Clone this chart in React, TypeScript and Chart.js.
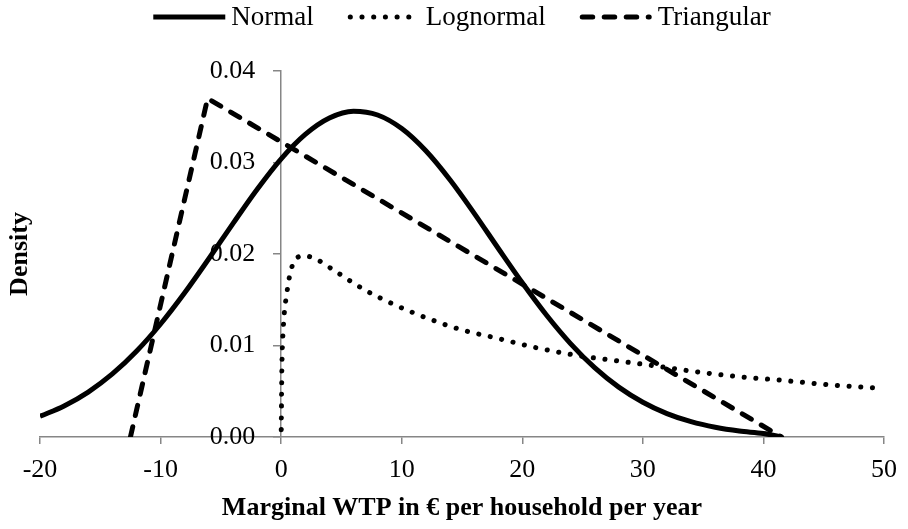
import React, { useEffect, useRef } from 'react';
import { Chart, registerables } from 'chart.js';

Chart.register(...registerables);

// ---- data ----
const seriesNames = ['Normal', 'Lognormal', 'Triangular'];

const normalX = [-20, -18, -16, -14, -12, -10, -8, -6, -4, -2, 0, 2, 4, 6, 8, 10, 12, 14, 16, 18, 20, 22, 24, 26, 28, 30, 32, 34, 36, 38, 40, 41.5];
const normalY = [0.00226, 0.00339, 0.00491, 0.00689, 0.00937, 0.01235, 0.01576, 0.01948, 0.02332, 0.02705, 0.0304, 0.03307, 0.03486, 0.0356, 0.03519, 0.03371, 0.03128, 0.02811, 0.02447, 0.02063, 0.01685, 0.01333, 0.01021, 0.00758, 0.00545, 0.0038, 0.00256, 0.00167, 0.00106, 0.00065, 0.00038, 0.0];

const lognormalX = [0.01, 0.03, 0.06, 0.1, 0.16, 0.22, 0.3, 0.44, 0.58, 0.77, 1.07, 1.45, 1.87, 2.8, 4.4, 6.9, 9.5, 12.3, 15, 17.9, 21, 24.6, 28, 31.4, 34.6, 37.9, 41.5, 45.5, 50];
const lognormalY = [0.0008, 0.004, 0.0075, 0.0098, 0.0115, 0.0128, 0.0141, 0.0154, 0.0167, 0.018, 0.0192, 0.0197, 0.0198, 0.0195, 0.0182, 0.0161, 0.0144, 0.0129, 0.0117, 0.0108, 0.0098, 0.0089, 0.0083, 0.0077, 0.0071, 0.0066, 0.0062, 0.0057, 0.0053];

const triangularX = [-12.5, -6.1, 41.5];
const triangularY = [0, 0.037, 0];

const xTicks = [-20, -10, 0, 10, 20, 30, 40, 50];
const yTicks = [0, 0.01, 0.02, 0.03, 0.04];
const xTitle = 'Marginal WTP in \u20ac per household per year';
const yTitle = 'Density';

const FONT = "'Times New Roman', 'Liberation Serif', serif";
const AXIS_COLOR = '#868686';

const toPoints = (xs: number[], ys: number[]) => xs.map((x, i) => ({ x, y: ys[i] }));

const customLegendAndTitle = {
  id: 'customLegendAndTitle',
  afterDraw(chart: any) {
    const ctx = chart.ctx as CanvasRenderingContext2D;
    ctx.save();
    // y-axis title
    ctx.font = `bold 26px ${FONT}`;
    ctx.fillStyle = '#000';
    ctx.textAlign = 'center';
    ctx.textBaseline = 'middle';
    ctx.translate(20, (chart.chartArea.top + chart.chartArea.bottom) / 2);
    ctx.rotate(-Math.PI / 2);
    ctx.fillText(yTitle, 0, 0);
    ctx.restore();

    // legend
    ctx.save();
    ctx.font = `27px ${FONT}`;
    const sample = 72;
    const gap = 6;
    const spacing = 34;
    const items = chart.data.datasets.map((ds: any) => ({ ds, w: ctx.measureText(ds.label).width }));
    const total = items.reduce((s: number, it: any) => s + sample + gap + it.w, 0) + spacing * (items.length - 1);
    let x = 462 - total / 2;
    const y = 17;
    items.forEach((it: any) => {
      const ds = it.ds;
      ctx.beginPath();
      ctx.setLineDash(ds.borderDash || []);
      ctx.lineCap = ds.borderCapStyle || 'butt';
      ctx.lineWidth = ds.borderWidth;
      ctx.strokeStyle = ds.borderColor;
      const inset = ds.borderCapStyle === 'round' ? ds.borderWidth / 2 : 0;
      ctx.moveTo(x + inset, y);
      ctx.lineTo(x + sample - inset, y);
      ctx.stroke();
      ctx.setLineDash([]);
      ctx.fillStyle = '#000';
      ctx.textAlign = 'left';
      ctx.textBaseline = 'middle';
      ctx.fillText(ds.label, x + sample + gap, y + 1);
      x += sample + gap + it.w + spacing;
    });
    ctx.restore();
  },
};

export default function App() {
  const canvasRef = useRef<HTMLCanvasElement | null>(null);

  useEffect(() => {
    if (!canvasRef.current) return;
    const chart = new Chart(canvasRef.current, {
      type: 'line',
      data: {
        datasets: [
          {
            label: seriesNames[0],
            data: toPoints(normalX, normalY),
            borderColor: '#000',
            borderWidth: 5,
            pointRadius: 0,
            cubicInterpolationMode: 'monotone',
            fill: false,
          },
          {
            label: seriesNames[1],
            data: toPoints(lognormalX, lognormalY),
            borderColor: '#000',
            borderWidth: 5,
            borderDash: [0.1, 11.6],
            borderCapStyle: 'round',
            pointRadius: 0,
            cubicInterpolationMode: 'monotone',
            fill: false,
          },
          {
            label: seriesNames[2],
            data: toPoints(triangularX, triangularY),
            borderColor: '#000',
            borderWidth: 5,
            borderDash: [10.5, 11.5],
            borderCapStyle: 'round',
            pointRadius: 0,
            tension: 0,
            fill: false,
          },
        ],
      } as any,
      options: {
        responsive: false,
        animation: false,
        events: [],
        layout: { padding: { top: 71, left: 40, right: 19, bottom: 0 } },
        plugins: {
          legend: { display: false },
          tooltip: { enabled: false },
        },
        scales: {
          x: {
            type: 'linear',
            position: 'bottom',
            min: -20,
            max: 50,
            afterBuildTicks: (s: any) => {
              s.ticks = xTicks.map((v) => ({ value: v }));
            },
            afterFit: (s: any) => {
              s.height = 92;
            },
            ticks: {
              font: { family: FONT, size: 26 },
              color: '#000',
              padding: 11,
              maxRotation: 0,
              autoSkip: false,
              callback: (v: any) => String(v),
            },
            grid: {
              drawOnChartArea: false,
              drawTicks: true,
              tickLength: 7,
              color: AXIS_COLOR,
              lineWidth: 1.5,
            },
            border: { color: AXIS_COLOR, width: 1.5 },
            title: {
              display: true,
              text: xTitle,
              font: { family: FONT, size: 26, weight: 'bold' },
              color: '#000',
              padding: { top: 6, bottom: 5 },
            },
          },
          y: {
            type: 'linear',
            position: { x: 0 } as any,
            min: 0,
            max: 0.04,
            afterBuildTicks: (s: any) => {
              s.ticks = yTicks.map((v) => ({ value: v }));
            },
            ticks: {
              font: { family: FONT, size: 26 },
              color: '#000',
              padding: 18,
              autoSkip: false,
              // em space keeps the label clear of the axis line (axis sits at x = 0)
              callback: (v: any) => Number(v).toFixed(2) + '\u2003',
            },
            grid: {
              drawOnChartArea: false,
              drawTicks: true,
              tickLength: 7,
              color: AXIS_COLOR,
              lineWidth: 1.5,
            },
            border: { color: AXIS_COLOR, width: 1.5 },
          },
        },
      } as any,
      plugins: [customLegendAndTitle],
    });
    return () => chart.destroy();
  }, []);

  return (
    <div style={{ position: 'absolute', left: 0, top: 0, width: 908, height: 529, background: '#fff' }}>
      <canvas ref={canvasRef} width={908} height={529} />
    </div>
  );
}
